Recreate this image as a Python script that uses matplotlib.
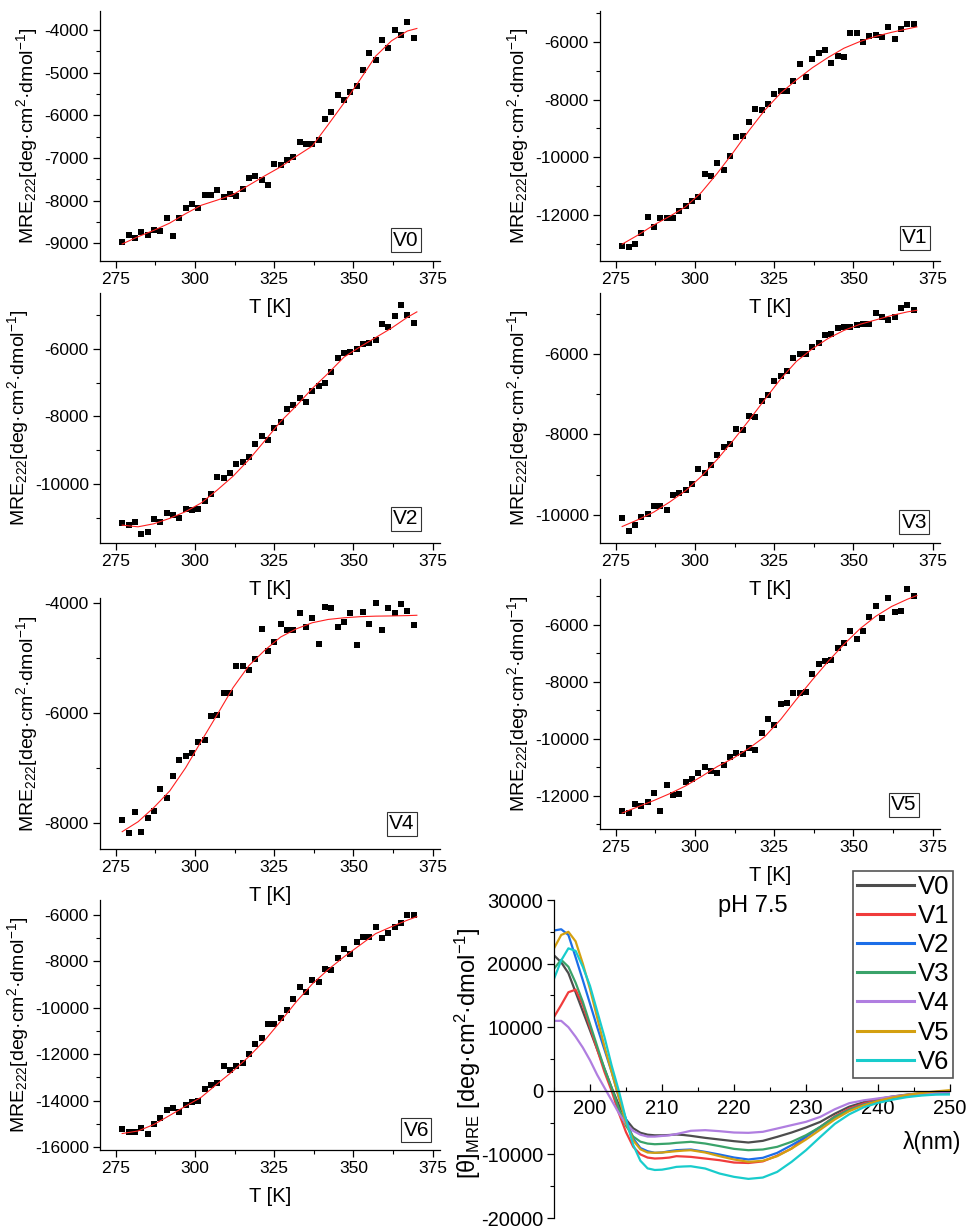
import matplotlib
matplotlib.use('Agg')
import matplotlib.pyplot as plt
from matplotlib.ticker import MultipleLocator

plt.rcParams['font.family'] = ['Liberation Sans', 'DejaVu Sans']
plt.rcParams['mathtext.fontset'] = 'custom'
plt.rcParams['mathtext.rm'] = 'Liberation Sans'
plt.rcParams['mathtext.it'] = 'Liberation Sans:italic'
plt.rcParams['axes.unicode_minus'] = False

# temperatures of the melting points (K)
temps = [277, 279, 281, 283, 285, 287, 289, 291, 293, 295, 297, 299, 301, 303, 305, 307,
         309, 311, 313, 315, 317, 319, 321, 323, 325, 327, 329, 331, 333, 335, 337, 339,
         341, 343, 345, 347, 349, 351, 353, 355, 357, 359, 361, 363, 365, 367, 369]
# temperatures where the fitted curves were read
fit_temps = [277, 282, 287, 292, 297, 302, 307, 312, 317, 322, 327, 332, 337, 342, 347,
             352, 357, 362, 367, 370]

v0 = [-8970, -8800, -8890, -8750, -8810, -8690, -8720, -8400, -8840, -8400, -8170, -8080,
      -8170, -7860, -7880, -7750, -7920, -7850, -7900, -7720, -7470, -7430, -7510, -7630,
      -7140, -7160, -7040, -6970, -6620, -6680, -6680, -6570, -6090, -5920, -5520, -5650,
      -5460, -5300, -4940, -4540, -4690, -4240, -4430, -4000, -4120, -3800, -4180]
v1 = [-13070, -13100, -13020, -12620, -12060, -12430, -12100, -12120, -12120, -11850,
      -11690, -11530, -11380, -10580, -10640, -10210, -10430, -9950, -9300, -9270, -8780,
      -8320, -8380, -8140, -7810, -7720, -7720, -7350, -6760, -7220, -6600, -6380, -6290,
      -6730, -6490, -6520, -5690, -5680, -5990, -5790, -5760, -5840, -5480, -5900, -5570,
      -5390, -5390]
v2 = [-11170, -11230, -11140, -11470, -11410, -11050, -11120, -10860, -10930, -11020,
      -10750, -10780, -10740, -10500, -10300, -9780, -9830, -9680, -9410, -9340, -9210,
      -8810, -8570, -8690, -8340, -8170, -7770, -7670, -7450, -7570, -7240, -7090, -7020,
      -6680, -6280, -6130, -6080, -6000, -5850, -5830, -5740, -5250, -5360, -5030, -4700,
      -5000, -5220]
v3 = [-10080, -10400, -10260, -10050, -9980, -9770, -9770, -9870, -9500, -9450, -9370,
      -9230, -8870, -8950, -8750, -8500, -8300, -8240, -7860, -7890, -7550, -7570, -7170,
      -7010, -6670, -6550, -6430, -6100, -6000, -5990, -5830, -5730, -5530, -5510, -5360,
      -5320, -5330, -5270, -5260, -5250, -4970, -5080, -5140, -5070, -4850, -4790, -4900]
v4 = [-7940, -8190, -7800, -8160, -7910, -7780, -7380, -7550, -7140, -6860, -6780, -6720,
      -6530, -6500, -6060, -6030, -5640, -5640, -5140, -5150, -5220, -5020, -4470, -4870,
      -4710, -4380, -4490, -4490, -4180, -4440, -4270, -4740, -4070, -4090, -4430, -4350,
      -4190, -4760, -4170, -4390, -4010, -4490, -4100, -4180, -4020, -4150, -4410]
v5 = [-12530, -12590, -12290, -12360, -12230, -11880, -12540, -11600, -11980, -11920,
      -11510, -11410, -11180, -11000, -11120, -11180, -10900, -10650, -10490, -10520,
      -10310, -10400, -9790, -9290, -9520, -8790, -8730, -8400, -8400, -8360, -7720, -7370,
      -7270, -7230, -6820, -6650, -6230, -6490, -6230, -5710, -5320, -5770, -5060, -5560,
      -5500, -4730, -4970]
v6 = [-15210, -15350, -15350, -15170, -15420, -14990, -14760, -14390, -14320, -14500,
      -14170, -14060, -14030, -13500, -13340, -13240, -12520, -12660, -12520, -12400,
      -12000, -11540, -11300, -10690, -10680, -10420, -10090, -9640, -9120, -9310, -8780,
      -8890, -8330, -8370, -7830, -7480, -7660, -7150, -6940, -6940, -6500, -6980, -6760,
      -6500, -6330, -6010, -6010]

fit0 = [-9020, -8850, -8700, -8530, -8310, -8110, -7990, -7860, -7640, -7420, -7210, -6960,
        -6720, -6220, -5710, -5170, -4610, -4250, -4020, -3960]
fit1 = [-13015, -12700, -12350, -12050, -11720, -11220, -10560, -9840, -9080, -8370, -7780,
        -7320, -6900, -6540, -6220, -5990, -5810, -5670, -5550, -5480]
fit2 = [-11220, -11270, -11180, -11020, -10820, -10560, -10180, -9770, -9280, -8720, -8150,
        -7680, -7170, -6720, -6240, -5940, -5660, -5380, -5060, -4900]
fit3 = [-10290, -10120, -9930, -9680, -9400, -9040, -8620, -8150, -7650, -7130, -6620,
        -6180, -5870, -5610, -5410, -5260, -5150, -5040, -4950, -4910]
fit4 = [-8160, -7980, -7720, -7420, -7000, -6510, -6030, -5540, -5140, -4860, -4620, -4470,
        -4360, -4300, -4270, -4250, -4240, -4236, -4230, -4224]
fit5 = [-12600, -12380, -12160, -11920, -11650, -11320, -10970, -10680, -10330, -9920,
        -9320, -8610, -7930, -7280, -6680, -6140, -5700, -5355, -5100, -4970]
fit6 = [-15420, -15310, -15030, -14640, -14240, -13850, -13280, -12720, -12100, -11400,
        -10580, -9730, -8970, -8350, -7800, -7300, -6800, -6500, -6220, -6070]

names = ['V0', 'V1', 'V2', 'V3', 'V4', 'V5', 'V6']
points = [v0, v1, v2, v3, v4, v5, v6]
fits = [fit0, fit1, fit2, fit3, fit4, fit5, fit6]

# CD spectra at pH 7.5
wl = [195, 196, 197, 198, 199, 200, 201, 202, 203, 204, 205, 206, 207, 208, 209, 210, 211,
      212, 213, 214, 216, 218, 220, 222, 224, 226, 228, 230, 232, 234, 236, 238, 240, 242,
      244, 246, 248, 250]
cd_v0 = [21300, 20200, 18500, 15500, 12500, 9500, 6500, 3500, 500, -2200, -4500, -5900,
         -6600, -6900, -7000, -7000, -6950, -6870, -6950, -7080, -7400, -7660, -7920, -8130,
         -7870, -7240, -6560, -5770, -4880, -3600, -2500, -1800, -1300, -900, -600, -380,
         -200, -100]
cd_v1 = [11600, 13500, 15500, 15900, 13500, 10000, 6500, 3000, 0, -3500, -6500, -8800,
         -10000, -10500, -10650, -10600, -10500, -10280, -10330, -10390, -10650, -10910,
         -11280, -11350, -11100, -10200, -9080, -7240, -5670, -4000, -2800, -2000, -1450,
         -1000, -700, -450, -250, -150]
cd_v2 = [25200, 25400, 24500, 21000, 17400, 13700, 10000, 6500, 3000, -1000, -4500, -7500,
         -9000, -9500, -9750, -9700, -9500, -9340, -9280, -9230, -9600, -10020, -10490,
         -10800, -10540, -9760, -8550, -7240, -5670, -4200, -3000, -2200, -1550, -1100,
         -750, -500, -300, -200]
cd_v3 = [19200, 20600, 19500, 17000, 14000, 10500, 7000, 3500, 500, -2800, -5500, -7200,
         -8000, -8300, -8400, -8350, -8300, -8180, -8100, -8020, -8290, -8700, -9130, -9340,
         -9230, -8810, -8020, -6980, -5670, -4100, -3000, -2200, -1600, -1150, -850, -650,
         -500, -450]
cd_v4 = [11000, 11000, 10000, 8500, 6800, 4800, 2500, 500, -1500, -3500, -5200, -6300,
         -6900, -7200, -7200, -7100, -7000, -6800, -6550, -6290, -6190, -6350, -6560, -6610,
         -6450, -5930, -5400, -4880, -4090, -2900, -1950, -1500, -1200, -900, -650, -450,
         -300, -200]
cd_v5 = [22400, 24500, 25000, 23500, 20000, 16000, 11500, 7000, 3000, -1000, -5000, -7800,
         -9200, -9700, -9750, -9700, -9600, -9490, -9400, -9340, -9700, -10280, -10800,
         -11170, -11010, -10280, -9080, -7660, -6090, -4500, -3200, -2300, -1600, -1050,
         -650, -350, -100, 100]
cd_v6 = [17600, 20500, 22400, 22000, 19500, 16500, 12500, 8500, 4000, 0, -4500, -8500,
         -11000, -12200, -12450, -12400, -12200, -11960, -11900, -11860, -12220, -13010,
         -13530, -13850, -13640, -12750, -11170, -9340, -7240, -5200, -3700, -2600, -1900,
         -1400, -1000, -750, -600, -580]
cd_curves = [cd_v0, cd_v1, cd_v2, cd_v3, cd_v4, cd_v5, cd_v6]
cd_colors = ['#4d4d4d', '#f03c3c', '#1c6ee8', '#3aa36a', '#b07ee0', '#d4a010', '#18cccc']

fig = plt.figure(figsize=(9.7, 12.29), dpi=100)
W, H = 970, 1229

# panel boxes in pixels: left, top, right, bottom
boxes = [(100, 11, 440, 261), (600, 11, 940, 261),
         (100, 293, 440, 543), (600, 293, 940, 543),
         (100, 598, 440, 849), (600, 579, 940, 829),
         (100, 900, 440, 1150)]
ylims = [(-9420, -3550), (-13600, -4930), (-11750, -4340), (-10700, -4480),
         (-8475, -3910), (-13160, -4390), (-16130, -5350)]
ysteps = [1000, 2000, 2000, 2000, 2000, 2000, 2000]
tagpos = [(0.90, 0.084), (0.926, 0.094), (0.90, 0.096), (0.924, 0.084),
          (0.888, 0.10), (0.894, 0.096), (0.93, 0.08)]

ylab = r'MRE$_{\mathrm{222}}$[deg·cm$^{\mathrm{2}}$·dmol$^{\mathrm{-1}}$]'

for i in range(7):
    l, t, r, b = boxes[i]
    ax = fig.add_axes([l / W, 1 - b / H, (r - l) / W, (b - t) / H])
    ax.patch.set_visible(False)
    ax.plot(temps, points[i], 's', color='black', ms=4.3, mew=0, zorder=2)
    ax.plot(fit_temps, fits[i], '-', color='#ff2020', lw=0.8, zorder=3)
    ax.set_xlim(270, 377.3)
    ax.set_ylim(*ylims[i])
    ax.xaxis.set_major_locator(MultipleLocator(25))
    ax.xaxis.set_minor_locator(MultipleLocator(12.5))
    ax.yaxis.set_major_locator(MultipleLocator(ysteps[i]))
    ax.yaxis.set_minor_locator(MultipleLocator(ysteps[i] / 2))
    for s in ['top', 'right']:
        ax.spines[s].set_visible(False)
    for s in ['left', 'bottom']:
        ax.spines[s].set_linewidth(0.9)
    ax.tick_params(which='major', direction='out', length=5, width=0.9, labelsize=12.5, pad=3)
    ax.tick_params(which='minor', direction='out', length=3, width=0.8)
    ax.set_xlabel('T [K]', fontsize=14.5, labelpad=8)
    ax.set_ylabel(ylab, fontsize=14, labelpad=3)
    ax.text(tagpos[i][0], tagpos[i][1], names[i], transform=ax.transAxes, fontsize=15,
            ha='center', va='center',
            bbox=dict(boxstyle='square,pad=0.12', fc='white', ec='#333333', lw=0.8))

# CD spectra panel
ax = fig.add_axes([554 / W, 1 - 1218 / H, 396 / W, 318 / H])
ax.patch.set_visible(False)
for name, vals, c in zip(names, cd_curves, cd_colors):
    ax.plot(wl, vals, color=c, lw=1.6, label=name)
ax.set_xlim(195, 250)
ax.set_ylim(-20000, 30000)
ax.xaxis.set_major_locator(MultipleLocator(10))
ax.xaxis.set_minor_locator(MultipleLocator(5))
ax.yaxis.set_major_locator(MultipleLocator(10000))
ax.yaxis.set_minor_locator(MultipleLocator(5000))
ax.spines['top'].set_visible(False)
ax.spines['right'].set_visible(False)
ax.spines['bottom'].set_position(('data', 0))
ax.spines['left'].set_linewidth(0.9)
ax.spines['bottom'].set_linewidth(0.9)
ax.tick_params(axis='x', which='major', direction='in', length=5, width=0.9, labelsize=14.5, pad=6)
ax.tick_params(axis='x', which='minor', direction='in', length=3, width=0.8)
ax.tick_params(axis='y', which='major', direction='out', length=5, width=0.9, labelsize=14.5, pad=3)
ax.tick_params(axis='y', which='minor', direction='out', length=3, width=0.8)
ax.text(222.6, 29000, 'pH 7.5', fontsize=17, ha='center', va='center')
ax.text(247.5, -8200, 'λ(nm)', fontsize=16.5, ha='center', va='center')
fig.text(468 / W, 1 - 1053 / H, r'[θ]$_{\mathrm{MRE}}$ [deg·cm$^{\mathrm{2}}$·dmol$^{\mathrm{-1}}$]',
         fontsize=17, rotation=90, ha='center', va='center')

leg = fig.legend(loc='upper right', bbox_to_anchor=(953 / W, 1 - 871 / H),
                 bbox_transform=fig.transFigure, fontsize=18.5, frameon=True, fancybox=False,
                 handlelength=2.2, handletextpad=0.15, labelspacing=0.2, borderpad=0.15,
                 borderaxespad=0, framealpha=1)
leg.get_frame().set_edgecolor('#555555')
leg.get_frame().set_linewidth(1.2)
for line in leg.get_lines():
    line.set_linewidth(2.2)

fig.savefig('out.png', dpi=100)
